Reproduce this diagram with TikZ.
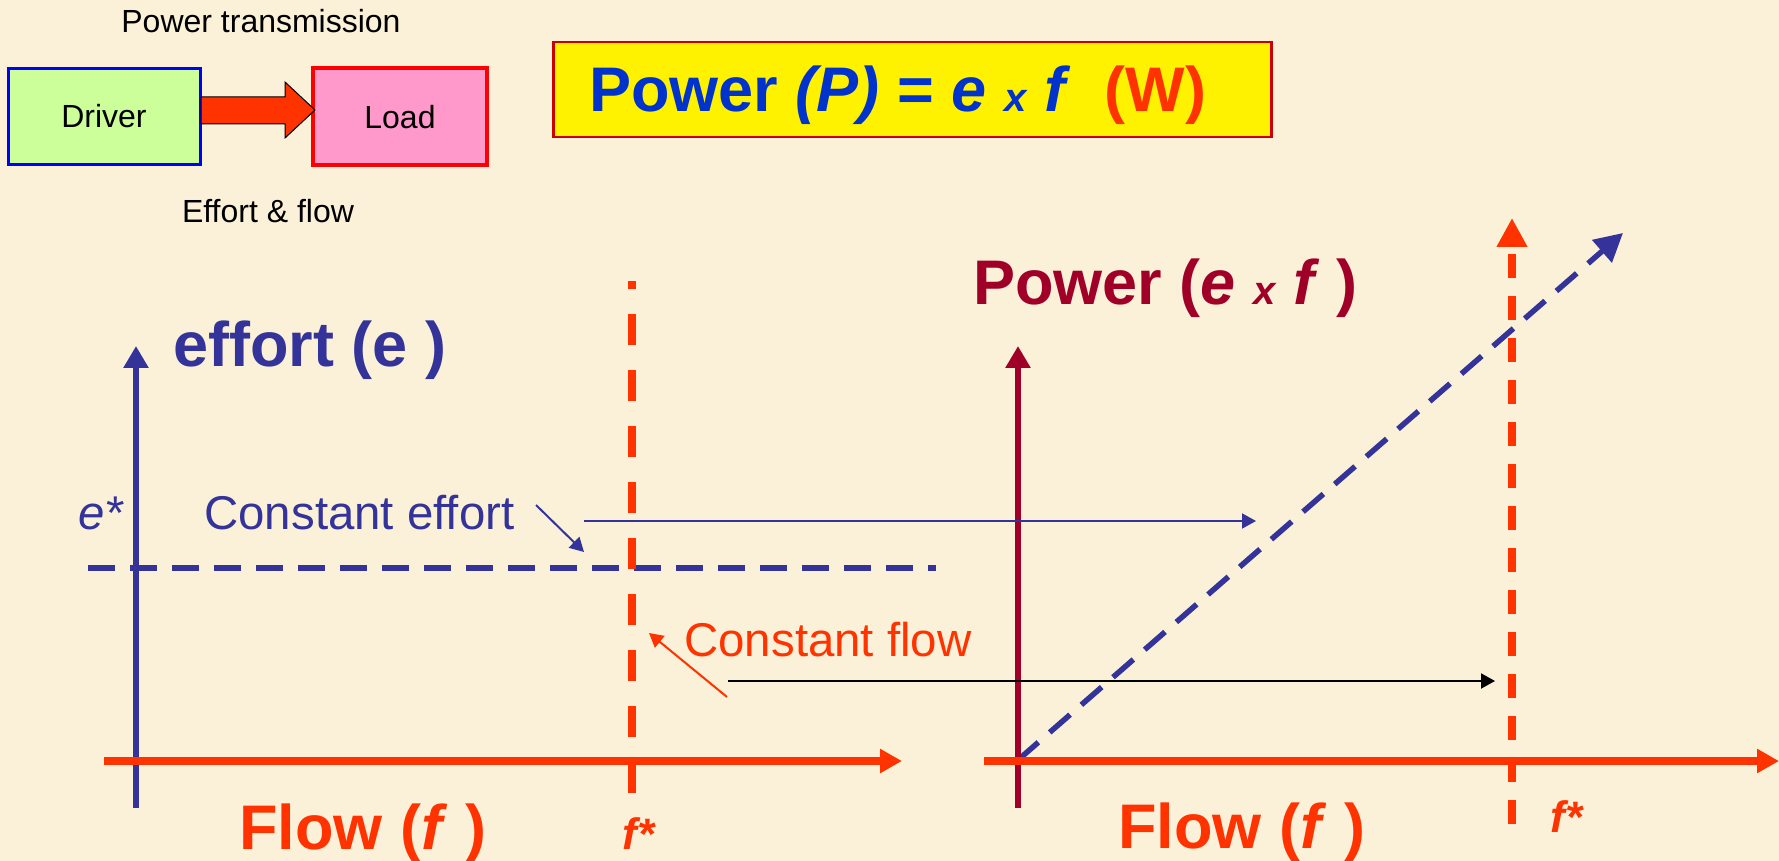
\documentclass[tikz,border=0pt]{standalone}
\usepackage{fontspec}
\setmainfont{Liberation Sans}
\usetikzlibrary{arrows.meta}
\definecolor{bg}{HTML}{FBF1D8}
\definecolor{dblue}{HTML}{333399}
\definecolor{fblue}{HTML}{0033CC}
\definecolor{orng}{HTML}{FF3300}
\definecolor{dred}{HTML}{A00028}
\definecolor{drvfill}{HTML}{CCFF99}
\definecolor{loadfill}{HTML}{FF99CC}
\definecolor{boxred}{HTML}{CC0000}
\tikzset{
  txt/.style={inner sep=0pt, anchor=base west},
  small/.style={inner sep=0pt, anchor=base, font=\fontsize{16}{18}\selectfont},
  big/.style={txt, font=\fontsize{31.5}{36}\selectfont\bfseries},
  mid/.style={txt, font=\fontsize{23.7}{28}\selectfont},
  star/.style={txt, font=\fontsize{22}{26}\selectfont\bfseries\itshape, text=orng},
  axis/.style={line width=3pt, -{Triangle[length=11pt,width=12pt]}},
  faxis/.style={orng, line width=4pt, -{Triangle[length=11pt,width=11.5pt]}},
  thin/.style={line width=1pt, -{Triangle[length=7pt,width=7.5pt]}},
  bdash/.style={dblue, line width=2.75pt, dash pattern=on 13.5pt off 7.5pt},
}
\begin{document}
\begin{tikzpicture}[x=0.5pt,y=-0.5pt]
\fill[bg] (0,0) rectangle (1779,861);
\useasboundingbox (0,0) rectangle (1779,861);

% top-left block diagram
\node[small] (pt) at (261,33) {Power transmission};
\node[draw=blue, line width=1.5pt, fill=drvfill, minimum width=96pt, minimum height=48pt,
      font=\fontsize{16}{18}\selectfont] (drv) at (104,116.5) {Driver};
\node[draw=red, line width=2pt, fill=loadfill, minimum width=87pt, minimum height=48.5pt,
      font=\fontsize{16}{18}\selectfont] (load) at (400,117) {Load};
\draw[fill=orng, draw=black, line width=0.5pt]
  (201,97) -- (285,97) -- (285,82) -- (315,110) -- (285,138) -- (285,124) -- (201,124) -- cycle;
\node[small] (ef) at (268,223) {Effort \& flow};

% formula box
\node[draw=boxred, line width=1.3pt, fill=yellow, minimum width=359pt, minimum height=47.5pt,
      inner sep=0pt] (fbox) at (912.5,89.5) {};
\node[big, text=fblue] (form) at (589,112)
  {Power \textit{(P)} = \textit{e} {\fontsize{20}{20}\selectfont\itshape x} \textit{f}\hspace{0.55em}\textcolor{orng}{(W)}};

% left graph
\coordinate (eb) at (136,808); \coordinate (et) at (136,346);
\coordinate (f1a) at (104,761); \coordinate (f1b) at (902,761);
\coordinate (bd1) at (88,568); \coordinate (bd2) at (936,568);
\coordinate (od1) at (632,281); \coordinate (od2) at (632,793);

\draw[bdash] (bd1) -- (bd2);
\draw[orng, line width=4pt, dash pattern=on 15.5pt off 12.5pt, dash phase=11.5pt] (od1) -- (od2);
\draw[axis, dblue] (eb) -- (et);
\draw[faxis] (f1a) -- (f1b);

\node[big, text=dblue] (elab) at (173,367) {effort (e )};
\node[mid, text=dblue, font=\fontsize{23.7}{28}\selectfont\itshape] (estar) at (78,529) {e*};
\node[mid, text=dblue] (ceff) at (204,529) {Constant effort};
\node[mid, text=orng] (cflow) at (684,656) {Constant flow};
\node[big, text=orng] (flow1) at (239,849) {Flow (\textit{f} )};
\node[star] (fs1) at (622,849) {f*};

% right graph
\coordinate (pb) at (1018,808); \coordinate (ptop) at (1018,346);
\coordinate (f2a) at (984,761); \coordinate (f2b) at (1779,761);
\coordinate (ov1) at (1512,824); \coordinate (ov2) at (1512,218);
\coordinate (dg1) at (1018,760); \coordinate (dg2) at (1623,233);

\draw[orng, line width=4pt, dash pattern=on 12pt off 9pt, -{Triangle[length=14.5pt,width=14.5pt]}] (ov1) -- (ov2);
\draw[bdash, -{Triangle[length=14pt,width=14.5pt]}] (dg1) -- (dg2);
\draw[axis, dred] (pb) -- (ptop);
\draw[faxis] (f2a) -- (f2b);

\node[big, text=dred] (plab) at (973,305)
  {Power (\textit{e} {\fontsize{20}{20}\selectfont\itshape x} \textit{f} )};
\node[big, text=orng] (flow2) at (1118,848) {Flow (\textit{f} )};
\node[star] (fs2) at (1550,832) {f*};

% thin arrows
\coordinate (a1s) at (536,505); \coordinate (a1e) at (584,552);
\coordinate (a2s) at (584,521); \coordinate (a2e) at (1256,521);
\coordinate (a3s) at (727,697); \coordinate (a3e) at (649,633);
\coordinate (a4s) at (728,681); \coordinate (a4e) at (1495,681);
\draw[thin, dblue] (a1s) -- (a1e);
\draw[thin, dblue] (a2s) -- (a2e);
\draw[thin, orng] (a3s) -- (a3e);
\draw[thin, black] (a4s) -- (a4e);
\end{tikzpicture}
\end{document}
